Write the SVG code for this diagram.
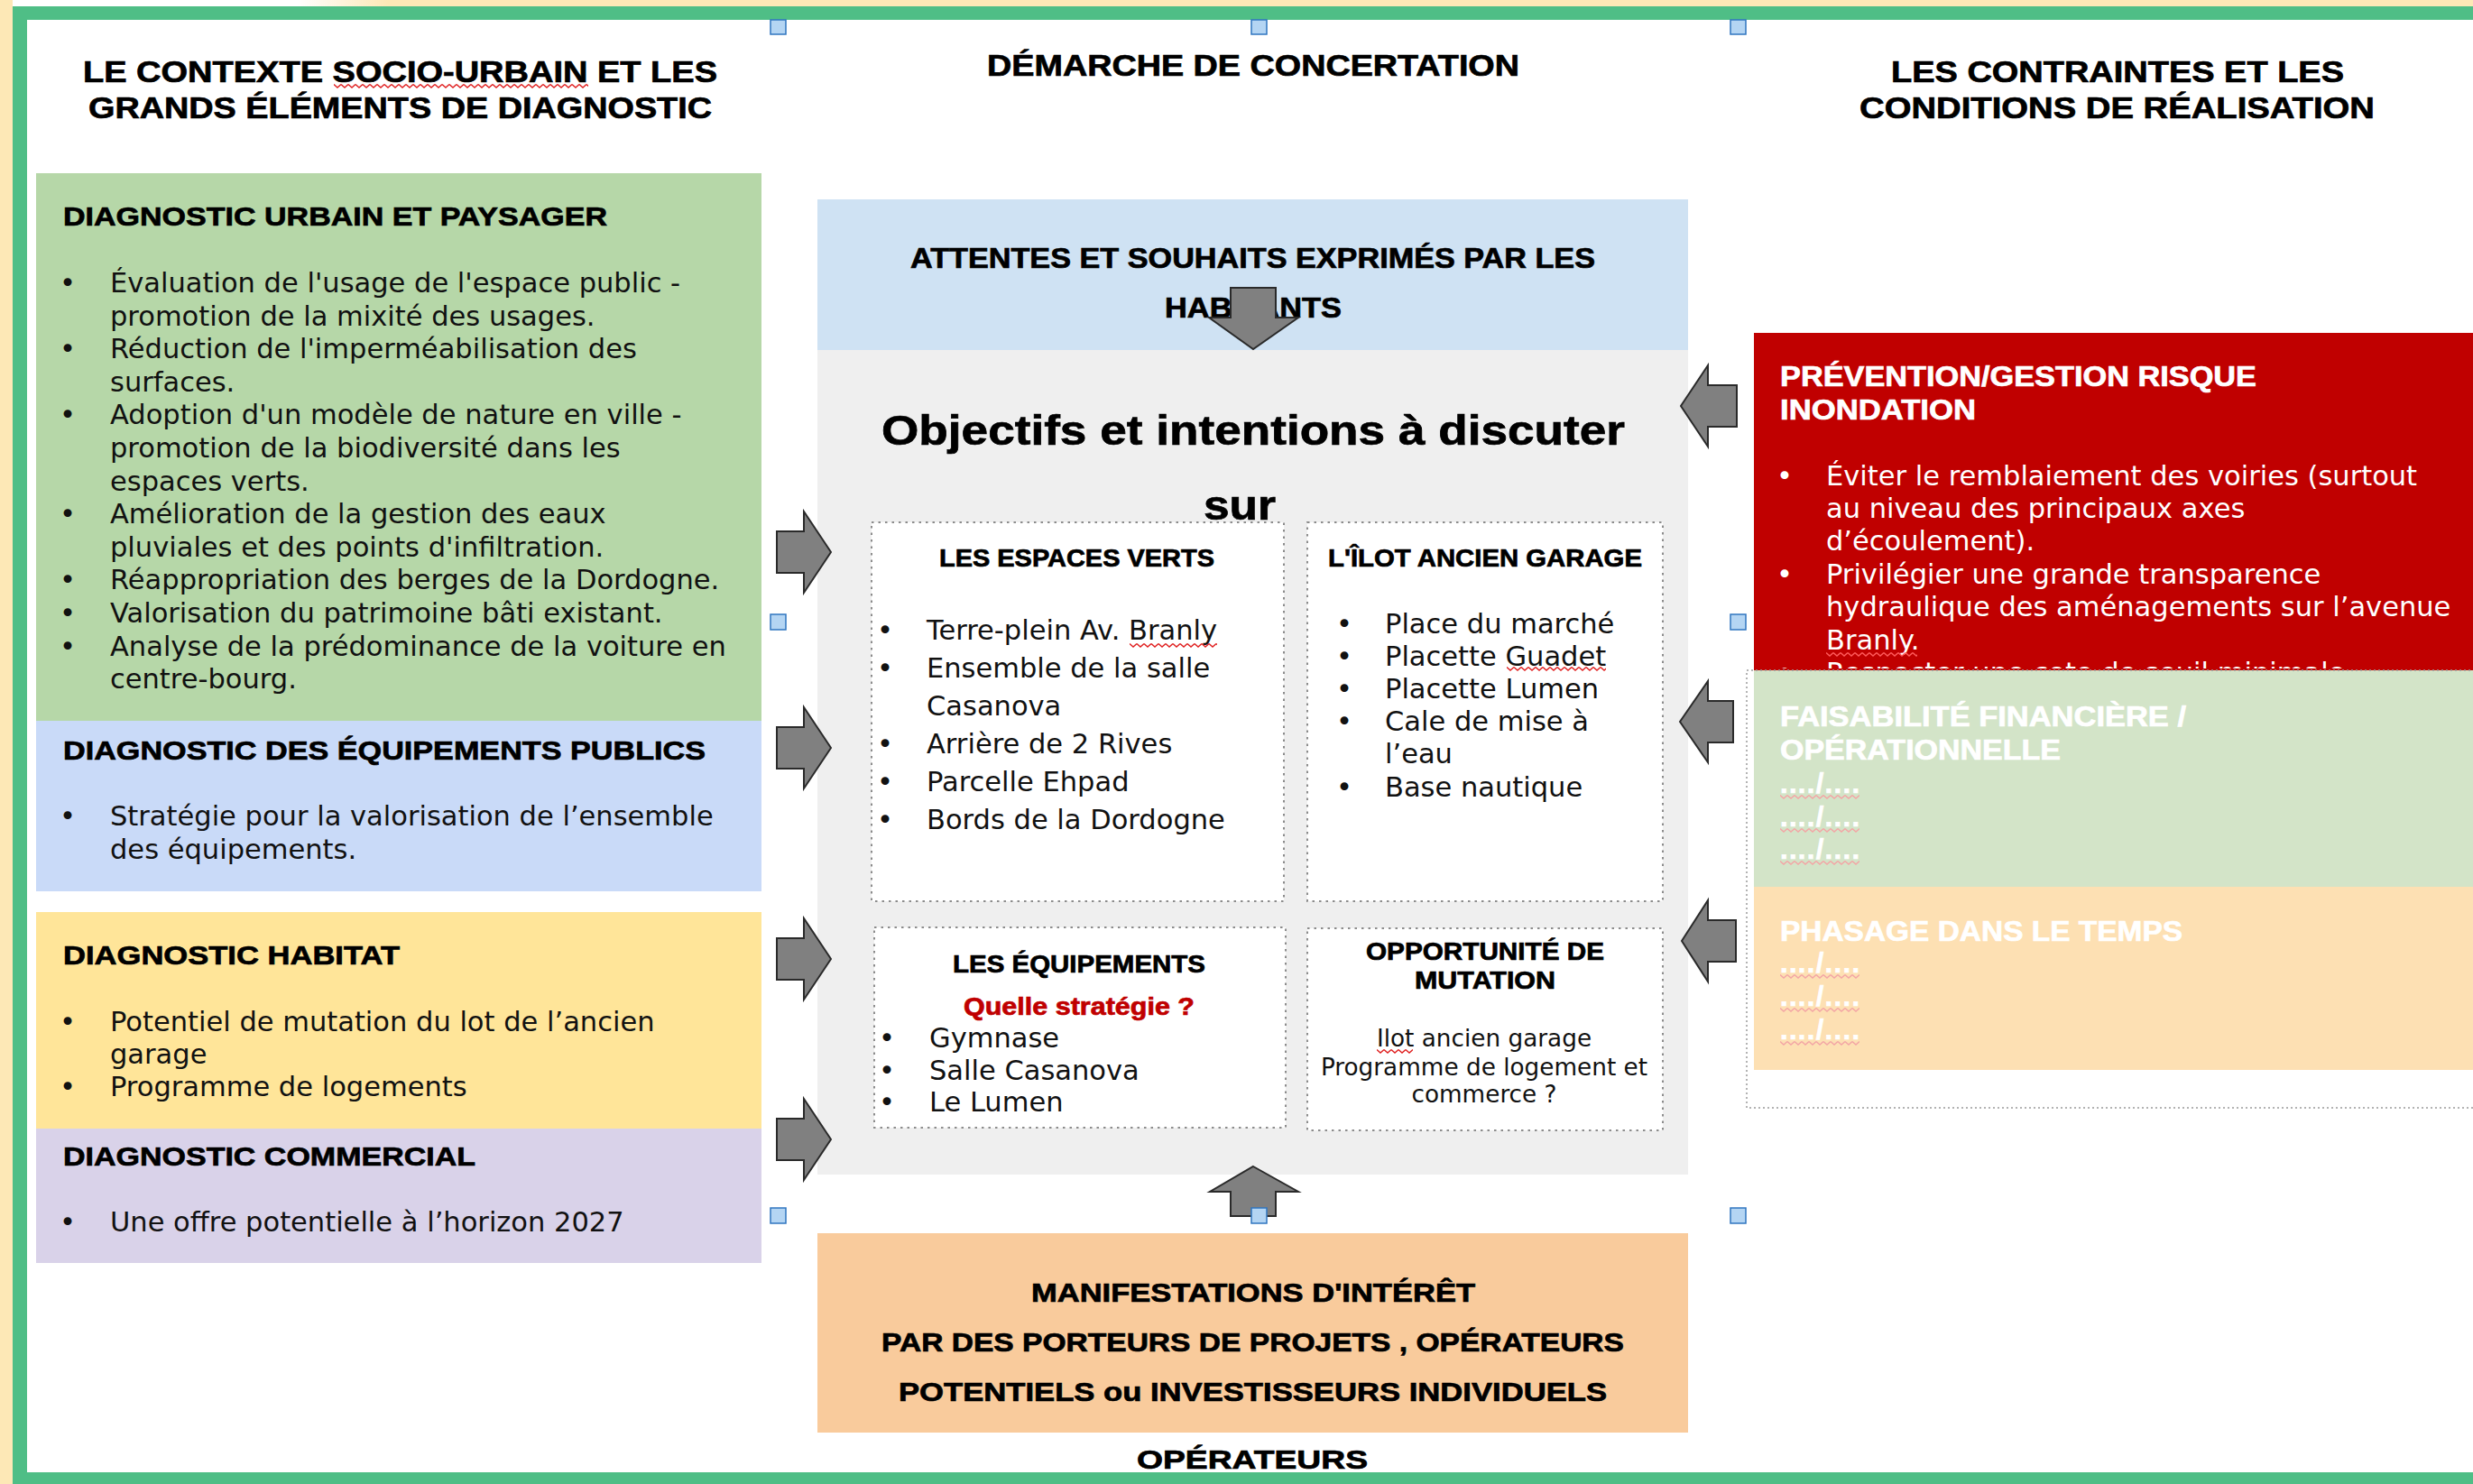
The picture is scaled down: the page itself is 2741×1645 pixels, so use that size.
<svg xmlns="http://www.w3.org/2000/svg" width="2741" height="1645" viewBox="0 0 2741 1645">
<style>
.hd{font-family:"Liberation Sans",Arial,sans-serif;font-weight:bold;fill:#000;stroke:#000;stroke-width:0.7px}
.h31{font-size:33px}
.h29{font-size:30px}
.h26{font-size:27px}
.h28{font-size:29px}
.h30{font-size:31px}
.h45{font-size:46px}
.bd{font-family:"DejaVu Sans",Verdana,sans-serif;font-size:30.5px;fill:#111}
.sm{font-size:26.3px}
.wt{fill:#ffffff;stroke:#ffffff}
.bu{text-anchor:middle}
.arrow{fill:#808080;stroke:#2a2a2a;stroke-width:2;stroke-linejoin:miter}
.dot{fill:#ffffff;stroke:#8c8c8c;stroke-width:2;stroke-dasharray:2.5 5}
.handle{fill:#b4d5f3;stroke:#2f75c0;stroke-width:1.5}
</style>
<defs>
<linearGradient id="topstrip" gradientUnits="userSpaceOnUse" x1="330" y1="0" x2="430" y2="0">
<stop offset="0" stop-color="#ffffff"/><stop offset="1" stop-color="#fde8b6"/>
</linearGradient>
<pattern id="wv" width="8" height="7" patternUnits="userSpaceOnUse"><path d="M0 1.5 L4 5 L8 1.5" fill="none" stroke="#e02020" stroke-width="1.4"/></pattern>
<pattern id="wvp" width="8" height="7" patternUnits="userSpaceOnUse"><path d="M0 1.5 L4 5 L8 1.5" fill="none" stroke="#f3a5a5" stroke-width="1.4"/></pattern>
<pattern id="wvr" width="8" height="7" patternUnits="userSpaceOnUse"><path d="M0 1.5 L4 5 L8 1.5" fill="none" stroke="#ff5a5a" stroke-width="1.4"/></pattern>
<clipPath id="redclip"><rect x="1944" y="369" width="800" height="372"/></clipPath>
</defs>

<rect x="0" y="0" width="2741" height="1645" fill="#ffffff"/>
<rect x="0" y="0" width="2741" height="8" fill="url(#topstrip)"/>
<rect x="0" y="0" width="14" height="1645" fill="#fde8b6"/>

<g id="frame" fill="#4fbe86">
<rect x="14" y="7" width="2727" height="15"/>
<rect x="14" y="7" width="16" height="1638"/>
<rect x="14" y="1632" width="2727" height="13"/>
</g>

<g id="headers" class="hd h31">
<text x="92" y="91" textLength="703" lengthAdjust="spacingAndGlyphs">LE CONTEXTE SOCIO-URBAIN ET LES</text>
<text x="98" y="131" textLength="691" lengthAdjust="spacingAndGlyphs">GRANDS ÉLÉMENTS DE DIAGNOSTIC</text>
<text x="1094" y="84" textLength="590" lengthAdjust="spacingAndGlyphs">DÉMARCHE DE CONCERTATION</text>
<text x="2096" y="91" textLength="502" lengthAdjust="spacingAndGlyphs">LES CONTRAINTES ET LES</text>
<text x="2061" y="131" textLength="571" lengthAdjust="spacingAndGlyphs">CONDITIONS DE RÉALISATION</text>
</g>

<g id="diag-urbain">
<rect x="40" y="192" width="804" height="607" fill="#b6d7a8"/>
<text class="hd h29" x="70" y="250" textLength="603" lengthAdjust="spacingAndGlyphs">DIAGNOSTIC URBAIN ET PAYSAGER</text>
<g class="bd">
<text x="122" y="324">Évaluation de l'usage de l'espace public -</text>
<text x="122" y="360.6">promotion de la mixité des usages.</text>
<text x="122" y="397.2">Réduction de l'imperméabilisation des</text>
<text x="122" y="433.8">surfaces.</text>
<text x="122" y="470.4">Adoption d'un modèle de nature en ville -</text>
<text x="122" y="507">promotion de la biodiversité dans les</text>
<text x="122" y="543.6">espaces verts.</text>
<text x="122" y="580.2">Amélioration de la gestion des eaux</text>
<text x="122" y="616.8">pluviales et des points d'infiltration.</text>
<text x="122" y="653.4">Réappropriation des berges de la Dordogne.</text>
<text x="122" y="690">Valorisation du patrimoine bâti existant.</text>
<text x="122" y="726.6">Analyse de la prédominance de la voiture en</text>
<text x="122" y="763.2">centre-bourg.</text>
<text class="bu" x="75" y="324">•</text>
<text class="bu" x="75" y="397.2">•</text>
<text class="bu" x="75" y="470.4">•</text>
<text class="bu" x="75" y="580.2">•</text>
<text class="bu" x="75" y="653.4">•</text>
<text class="bu" x="75" y="690">•</text>
<text class="bu" x="75" y="726.6">•</text>
</g>
</g>

<g id="diag-equipements">
<rect x="40" y="799" width="804" height="189" fill="#c9daf8"/>
<text class="hd h29" x="70" y="842" textLength="712" lengthAdjust="spacingAndGlyphs">DIAGNOSTIC DES ÉQUIPEMENTS PUBLICS</text>
<g class="bd">
<text x="122" y="915">Stratégie pour la valorisation de l’ensemble</text>
<text x="122" y="952">des équipements.</text>
<text class="bu" x="75" y="915">•</text>
</g>
</g>

<g id="diag-habitat">
<rect x="40" y="1011" width="804" height="240" fill="#ffe599"/>
<text class="hd h29" x="70" y="1069" textLength="373" lengthAdjust="spacingAndGlyphs">DIAGNOSTIC HABITAT</text>
<g class="bd">
<text x="122" y="1143">Potentiel de mutation du lot de l’ancien</text>
<text x="122" y="1179">garage</text>
<text x="122" y="1215">Programme de logements</text>
<text class="bu" x="75" y="1143">•</text>
<text class="bu" x="75" y="1215">•</text>
</g>
</g>

<g id="diag-commercial">
<rect x="40" y="1251" width="804" height="149" fill="#d9d2e9"/>
<text class="hd h29" x="70" y="1292" textLength="457" lengthAdjust="spacingAndGlyphs">DIAGNOSTIC COMMERCIAL</text>
<g class="bd">
<text x="122" y="1365">Une offre potentielle à l’horizon 2027</text>
<text class="bu" x="75" y="1365">•</text>
</g>
</g>

<g id="attentes">
<rect x="906" y="221" width="965" height="167" fill="#cfe2f3"/>
<text class="hd h30" x="1009" y="297" textLength="759" lengthAdjust="spacingAndGlyphs">ATTENTES ET SOUHAITS EXPRIMÉS PAR LES</text>
<text class="hd h30" x="1291" y="352" textLength="196" lengthAdjust="spacingAndGlyphs">HABITANTS</text>
</g>

<g id="objectifs">
<rect x="906" y="388" width="965" height="914" fill="#efefef"/>
<text class="hd h45" x="977" y="493" textLength="824" lengthAdjust="spacingAndGlyphs">Objectifs et intentions à discuter</text>
<text class="hd h45" x="1334" y="576" textLength="80" lengthAdjust="spacingAndGlyphs">sur</text>
</g>

<g id="espaces-verts">
<rect class="dot" x="966" y="579" width="457" height="420"/>
<text class="hd h26" x="1041" y="628" textLength="305" lengthAdjust="spacingAndGlyphs">LES ESPACES VERTS</text>
<g class="bd">
<text x="1027" y="709">Terre-plein Av. Branly</text>
<text x="1027" y="751">Ensemble de la salle</text>
<text x="1027" y="793">Casanova</text>
<text x="1027" y="835">Arrière de 2 Rives</text>
<text x="1027" y="877">Parcelle Ehpad</text>
<text x="1027" y="919">Bords de la Dordogne</text>
<text class="bu" x="981" y="709">•</text>
<text class="bu" x="981" y="751">•</text>
<text class="bu" x="981" y="835">•</text>
<text class="bu" x="981" y="877">•</text>
<text class="bu" x="981" y="919">•</text>
</g>
</g>

<g id="ilot-garage">
<rect class="dot" x="1449" y="579" width="394" height="420"/>
<text class="hd h26" x="1472" y="628" textLength="348" lengthAdjust="spacingAndGlyphs">L'ÎLOT ANCIEN GARAGE</text>
<g class="bd">
<text x="1535" y="702">Place du marché</text>
<text x="1535" y="738">Placette Guadet</text>
<text x="1535" y="774">Placette Lumen</text>
<text x="1535" y="810">Cale de mise à</text>
<text x="1535" y="846">l’eau</text>
<text x="1535" y="883">Base nautique</text>
<text class="bu" x="1490" y="702">•</text>
<text class="bu" x="1490" y="738">•</text>
<text class="bu" x="1490" y="774">•</text>
<text class="bu" x="1490" y="810">•</text>
<text class="bu" x="1490" y="883">•</text>
</g>
</g>

<g id="equipements">
<rect class="dot" x="969" y="1028" width="456" height="222"/>
<text class="hd h26" x="1056" y="1078" textLength="280" lengthAdjust="spacingAndGlyphs">LES ÉQUIPEMENTS</text>
<text class="hd h26" x="1068" y="1125" textLength="256" lengthAdjust="spacingAndGlyphs" style="fill:#c00000;stroke:#c00000">Quelle stratégie ?</text>
<g class="bd">
<text x="1030" y="1161">Gymnase</text>
<text x="1030" y="1197">Salle Casanova</text>
<text x="1030" y="1232">Le Lumen</text>
<text class="bu" x="983" y="1161">•</text>
<text class="bu" x="983" y="1197">•</text>
<text class="bu" x="983" y="1232">•</text>
</g>
</g>

<g id="opportunite">
<rect class="dot" x="1449" y="1029" width="394" height="224"/>
<text class="hd h26" x="1514" y="1064" textLength="264" lengthAdjust="spacingAndGlyphs">OPPORTUNITÉ DE</text>
<text class="hd h26" x="1568" y="1096" textLength="156" lengthAdjust="spacingAndGlyphs">MUTATION</text>
<g class="bd sm" text-anchor="middle">
<text x="1645" y="1160">Ilot ancien garage</text>
<text x="1645" y="1192">Programme de logement et</text>
<text x="1645" y="1222">commerce ?</text>
</g>
</g>

<g id="manifestations">
<rect x="906" y="1367" width="965" height="221" fill="#f9cb9c"/>
<text class="hd h28" x="1143" y="1443" textLength="492" lengthAdjust="spacingAndGlyphs">MANIFESTATIONS D'INTÉRÊT</text>
<text class="hd h28" x="977" y="1498" textLength="823" lengthAdjust="spacingAndGlyphs">PAR DES PORTEURS DE PROJETS , OPÉRATEURS</text>
<text class="hd h28" x="996" y="1553" textLength="785" lengthAdjust="spacingAndGlyphs">POTENTIELS ou INVESTISSEURS INDIVIDUELS</text>
</g>

<g id="operateurs">
<text class="hd h28" x="1260" y="1628" textLength="256" lengthAdjust="spacingAndGlyphs">OPÉRATEURS</text>
</g>

<g id="inondation">
<rect x="1944" y="369" width="797" height="374" fill="#c00000"/>
<text class="hd h30 wt" x="1973" y="428" textLength="528" lengthAdjust="spacingAndGlyphs">PRÉVENTION/GESTION RISQUE</text>
<text class="hd h30 wt" x="1973" y="465" textLength="217" lengthAdjust="spacingAndGlyphs">INONDATION</text>
<g class="bd" style="fill:#ffffff">
<text x="2024" y="538">Éviter le remblaiement des voiries (surtout</text>
<text x="2024" y="574">au niveau des principaux axes</text>
<text x="2024" y="610">d’écoulement).</text>
<text x="2024" y="647">Privilégier une grande transparence</text>
<text x="2024" y="683">hydraulique des aménagements sur l’avenue</text>
<text x="2024" y="720">Branly.</text>
<text class="bu" x="1978" y="538">•</text>
<text class="bu" x="1978" y="647">•</text>
<g clip-path="url(#redclip)">
<text x="2024" y="756">Respecter une cote de seuil minimale</text>
<text class="bu" x="1978" y="756">•</text>
</g>
</g>
</g>

<g id="faisabilite">
<rect x="1944" y="743" width="797" height="240" fill="#d3e4c8"/>
<text class="hd h30 wt" x="1973" y="805" textLength="450" lengthAdjust="spacingAndGlyphs">FAISABILITÉ FINANCIÈRE /</text>
<text class="hd h30 wt" x="1973" y="842" textLength="311" lengthAdjust="spacingAndGlyphs">OPÉRATIONNELLE</text>
<text class="hd h30 wt" x="1973" y="879" textLength="88" lengthAdjust="spacing">..../....</text>
<text class="hd h30 wt" x="1973" y="916" textLength="88" lengthAdjust="spacing">..../....</text>
<text class="hd h30 wt" x="1973" y="952" textLength="88" lengthAdjust="spacing">..../....</text>
</g>

<g id="phasage">
<rect x="1944" y="983" width="797" height="203" fill="#fde0b3"/>
<text class="hd h30 wt" x="1973" y="1043" textLength="446" lengthAdjust="spacingAndGlyphs">PHASAGE DANS LE TEMPS</text>
<text class="hd h30 wt" x="1973" y="1078" textLength="88" lengthAdjust="spacing">..../....</text>
<text class="hd h30 wt" x="1973" y="1115" textLength="88" lengthAdjust="spacing">..../....</text>
<text class="hd h30 wt" x="1973" y="1152" textLength="88" lengthAdjust="spacing">..../....</text>
</g>

<g id="contraintes-cadre">
<rect x="1936" y="743" width="820" height="485" fill="none" stroke="#9a9a9a" stroke-width="1.5" stroke-dasharray="2 3"/>
</g>

<g id="spellcheck">
<g transform="translate(370,92)"><rect width="282" height="7" fill="url(#wv)"/></g>
<g transform="translate(1252,712)"><rect width="97" height="7" fill="url(#wv)"/></g>
<g transform="translate(1670,738)"><rect width="110" height="7" fill="url(#wv)"/></g>
<g transform="translate(1526,1162)"><rect width="40" height="7" fill="url(#wv)"/></g>
<g transform="translate(2024,722)"><rect width="101" height="7" fill="url(#wvr)"/></g>
<g transform="translate(1973,880)"><rect width="88" height="7" fill="url(#wvp)"/></g>
<g transform="translate(1973,917)"><rect width="88" height="7" fill="url(#wvp)"/></g>
<g transform="translate(1973,953)"><rect width="88" height="7" fill="url(#wvp)"/></g>
<g transform="translate(1973,1079)"><rect width="88" height="7" fill="url(#wvp)"/></g>
<g transform="translate(1973,1116)"><rect width="88" height="7" fill="url(#wvp)"/></g>
<g transform="translate(1973,1153)"><rect width="88" height="7" fill="url(#wvp)"/></g>
</g>

<g id="connectors">
<polygon class="arrow" points="1364,319 1414,319 1414,352 1439,352 1389,387 1340,352 1364,352"/>
<polygon class="arrow" points="1389,1293 1439,1321 1414,1321 1414,1348 1364,1348 1364,1321 1341,1321"/>
<polygon class="arrow" points="861,589 891,589 891,567 921,612 891,657 891,635 861,635"/>
<polygon class="arrow" points="861,806 891,806 891,784 921,829 891,874 891,852 861,852"/>
<polygon class="arrow" points="861,1040 891,1040 891,1018 921,1063 891,1108 891,1086 861,1086"/>
<polygon class="arrow" points="861,1240 891,1240 891,1218 921,1263 891,1308 891,1286 861,1286"/>
<polygon class="arrow" points="1925,427 1893,427 1893,405 1863,450 1893,495 1893,473 1925,473"/>
<polygon class="arrow" points="1921,777 1893,777 1893,755 1862,800 1893,845 1893,823 1921,823"/>
<polygon class="arrow" points="1924,1020 1893,1020 1893,998 1864,1043 1893,1088 1893,1066 1924,1066"/>
</g>

<g id="handles">
<rect class="handle" x="854" y="22" width="17" height="16"/>
<rect class="handle" x="1387" y="22" width="17" height="16"/>
<rect class="handle" x="1918" y="22" width="17" height="16"/>
<rect class="handle" x="854" y="681" width="17" height="17"/>
<rect class="handle" x="1918" y="681" width="17" height="17"/>
<rect class="handle" x="854" y="1339" width="17" height="17"/>
<rect class="handle" x="1387" y="1339" width="17" height="17"/>
<rect class="handle" x="1918" y="1339" width="17" height="17"/>
</g>
</svg>
